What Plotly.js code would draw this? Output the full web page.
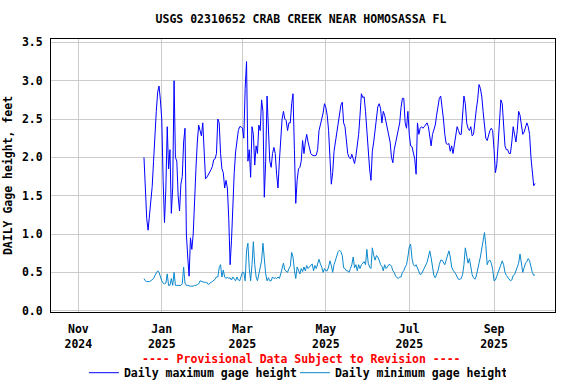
<!DOCTYPE html>
<html>
<head>
<meta charset="utf-8">
<script src="https://cdn.plot.ly/plotly-3.0.1.min.js"></script>
<style>
  html, body { margin: 0; padding: 0; background: #fff; }
  #chart { width: 576px; height: 384px; }
</style>
</head>
<body>
<div id="chart"></div>
<script>
// ---- Data (daily values, starting 2024-12-19) ----
const startDate = '2024-12-19';
const dayMs = 86400000;

const maxGage = [
  // Dec 19 - Dec 31
  2.0, 1.6, 1.2, 1.05, 1.25, 1.45, 1.62, 1.95, 2.35, 2.6, 2.85, 2.93, 2.75,
  // Jan 1 - Feb 1
  2.5, 1.7, 1.15, 1.6, 2.4, 1.85, 2.1, 1.27, 1.6, 3.0, 2.0, 1.95, 1.5, 1.3, 1.65, 1.75,
  2.2, 2.38, 1.0, 0.7, 0.45, 0.95, 0.8, 1.0, 1.5, 1.85, 2.2, 2.42, 2.35, 2.28, 2.45, 2.15,
  // Feb 2 - Mar 20
  1.72, 1.74, 1.77, 1.8, 1.84, 1.88, 1.97, 1.98, 2.05, 2.5, 2.45, 2.05, 1.85, 1.8, 1.6, 1.7,
  1.6, 1.2, 0.6, 0.92, 1.4, 1.8, 2.07, 2.2, 2.35, 2.4, 2.4, 2.38, 2.25, 2.9, 3.25, 1.95,
  2.1, 1.74, 2.4, 2.3, 1.9, 2.15, 2.05, 2.42, 2.35, 2.75, 2.6, 1.48, 1.95, 2.8, 2.4, 1.95,
  // Mar 21 - May 5
  1.87, 2.05, 2.13, 2.05, 1.78, 1.6, 1.95, 2.25, 2.5, 2.6, 2.5, 2.48, 2.35, 2.45, 2.45, 2.7,
  2.83, 2.1, 1.4, 1.7, 1.85, 1.87, 1.95, 2.22, 2.05, 2.2, 2.3, 2.2, 2.13, 2.05, 2.03, 2.02,
  2.02, 2.03, 2.1, 2.35, 2.45, 2.5, 2.58, 2.7, 2.65, 2.55, 2.35, 2.05, 1.65, 1.8,
  // May 6 - Jun 21
  2.08, 2.2, 2.33, 2.45, 2.6, 2.68, 2.72, 2.45, 2.4, 2.22, 2.05, 2.0, 1.98, 2.04, 1.97, 1.92,
  2.02, 2.15, 2.3, 2.55, 2.83, 2.78, 2.79, 2.6, 2.3, 2.02, 1.85, 1.7, 2.08, 2.2, 2.35, 2.58,
  2.66, 2.7, 2.64, 2.45, 2.6, 2.55, 2.45, 2.35, 2.27, 2.2, 2.0, 1.93, 2.1, 2.2, 2.25,
  // Jun 22 - Aug 6
  2.38, 2.45, 2.65, 2.77, 2.77, 2.45, 2.38, 2.6, 2.3, 2.15, 2.14, 2.05, 1.98, 1.78, 2.45, 2.3,
  2.38, 2.4, 2.38, 2.4, 2.42, 2.45, 2.4, 2.3, 2.15, 2.3, 2.38, 2.42, 2.55, 2.7, 2.77, 2.8,
  2.68, 2.5, 2.3, 2.18, 2.17, 2.18, 2.08, 2.15, 2.05, 2.18, 2.28, 2.4, 2.35, 2.3,
  // Aug 7 - Oct 1
  2.3, 2.55, 2.8, 2.7, 2.45, 2.38, 2.35, 2.4, 2.28, 2.3, 2.5, 2.62, 2.75, 2.95, 2.9, 2.8,
  2.6, 2.4, 2.25, 2.22, 2.3, 2.35, 2.38, 2.35, 2.1, 1.8, 1.9, 2.2, 2.5, 2.75, 2.7, 2.4,
  2.15, 2.1, 2.1, 2.05, 2.05, 2.2, 2.4, 2.3, 2.2, 2.35, 2.6, 2.55, 2.4, 2.3, 2.33, 2.4,
  2.45, 2.4, 2.3, 2.0, 1.75, 1.63, 1.66
];

const minGage = [
  // Dec 19 - Dec 31
  0.42, 0.39, 0.38, 0.38, 0.38, 0.39, 0.41, 0.42, 0.46, 0.49, 0.52, 0.5, 0.44,
  // Jan 1 - Feb 1
  0.39, 0.36, 0.35, 0.36, 0.48, 0.33, 0.33, 0.42, 0.33, 0.5, 0.33, 0.33, 0.33, 0.33, 0.33, 0.35,
  0.57, 0.36, 0.33, 0.33, 0.32, 0.32, 0.32, 0.32, 0.33, 0.33, 0.34, 0.35, 0.39, 0.38, 0.37, 0.37,
  // Feb 2 - Mar 20
  0.37, 0.37, 0.34, 0.36, 0.37, 0.38, 0.39, 0.41, 0.44, 0.44, 0.56, 0.6, 0.44, 0.53, 0.44, 0.42,
  0.44, 0.42, 0.43, 0.4, 0.44, 0.42, 0.39, 0.44, 0.4, 0.39, 0.44, 0.5, 0.5, 0.39, 0.78, 0.88,
  0.55, 0.39, 0.6, 0.9, 0.6, 0.44, 0.39, 0.48, 0.56, 0.65, 0.88, 0.62, 0.48, 0.39, 0.43, 0.39,
  // Mar 21 - May 5
  0.39, 0.44, 0.42, 0.43, 0.42, 0.44, 0.42, 0.48, 0.57, 0.62, 0.53, 0.52, 0.5, 0.55, 0.58, 0.76,
  0.7, 0.53, 0.42, 0.57, 0.52, 0.48, 0.55, 0.51, 0.57, 0.52, 0.59, 0.55, 0.57, 0.59, 0.61, 0.52,
  0.59, 0.55, 0.63, 0.67, 0.61, 0.57, 0.5, 0.55, 0.52, 0.52, 0.57, 0.65, 0.59, 0.5,
  // May 6 - Jun 20
  0.6, 0.66, 0.73, 0.77, 0.79, 0.77, 0.72, 0.56, 0.55, 0.52, 0.52, 0.5, 0.55, 0.6, 0.7, 0.56,
  0.6, 0.52, 0.6, 0.55, 0.6, 0.62, 0.64, 0.6, 0.8, 0.62, 0.57, 0.55, 0.82, 0.72, 0.66, 0.72,
  0.7, 0.66, 0.6, 0.58, 0.52, 0.6, 0.55, 0.57, 0.6, 0.6, 0.58, 0.52, 0.5, 0.45,
  // Jun 21 - Aug 6
  0.43, 0.42, 0.44, 0.44, 0.5, 0.52, 0.57, 0.6, 0.7, 0.83, 0.87, 0.68, 0.6, 0.58, 0.6, 0.55,
  0.5, 0.47, 0.48, 0.52, 0.55, 0.6, 0.63, 0.7, 0.78, 0.69, 0.57, 0.46, 0.43, 0.48, 0.52, 0.6,
  0.66, 0.66, 0.62, 0.6, 0.66, 0.72, 0.78, 0.7, 0.57, 0.53, 0.51, 0.48, 0.44, 0.41, 0.41,
  // Aug 7 - Oct 1
  0.42, 0.47, 0.6, 0.82, 0.72, 0.62, 0.68, 0.55, 0.47, 0.43, 0.41, 0.45, 0.52, 0.62, 0.7, 0.8,
  0.95, 1.02, 0.85, 0.6, 0.65, 0.66, 0.62, 0.54, 0.39, 0.4, 0.45, 0.5, 0.55, 0.6, 0.65, 0.6,
  0.5, 0.46, 0.44, 0.42, 0.39, 0.4, 0.46, 0.47, 0.52, 0.56, 0.62, 0.74, 0.6, 0.5, 0.56, 0.62,
  0.64, 0.68, 0.65, 0.56, 0.5, 0.46, 0.47
];

const xTickVals = ['2024-11-01', '2025-01-01', '2025-03-01', '2025-05-01', '2025-07-01', '2025-09-01'];
const xTickText = ['Nov<br>2024', 'Jan<br>2025', 'Mar<br>2025', 'May<br>2025', 'Jul<br>2025', 'Sep<br>2025'];
const yTickVals = [0, 0.5, 1.0, 1.5, 2.0, 2.5, 3.0, 3.5];

const FONT = 'DejaVu Sans Mono, Liberation Mono, monospace';
const FS = 11.5;

const traces = [
  {
    type: 'scatter', mode: 'lines', name: 'Daily maximum gage height',
    x0: startDate, dx: dayMs, y: maxGage,
    line: { color: '#0000ff', width: 1 }, hoverinfo: 'skip'
  },
  {
    type: 'scatter', mode: 'lines', name: 'Daily minimum gage height',
    x0: startDate, dx: dayMs, y: minGage,
    line: { color: '#0a88cc', width: 1 }, hoverinfo: 'skip'
  }
];

const layout = {
  width: 576, height: 384,
  margin: { l: 51, r: 21, t: 39, b: 72, pad: 0, autoexpand: false },
  paper_bgcolor: '#ffffff', plot_bgcolor: '#ffffff',
  font: { family: FONT, size: FS, color: '#000000', weight: 'bold' },
  showlegend: true,
  title: {
    text: 'USGS 02310652 CRAB CREEK NEAR HOMOSASSA FL',
    font: { family: FONT, size: FS, color: '#000000', weight: 'bold' },
    xref: 'paper', x: 0.496, xanchor: 'center',
    yref: 'container', y: 1 - 19 / 384, yanchor: 'middle'
  },
  xaxis: {
    type: 'date',
    range: ['2024-10-12', '2025-10-15 14:00'],
    tickmode: 'array', tickvals: xTickVals, ticktext: xTickText,
    showgrid: true, gridcolor: '#cccccc', gridwidth: 1,
    zeroline: false,
    showline: true, linecolor: '#000000', linewidth: 1, mirror: true,
    ticks: 'outside', ticklen: 6, tickcolor: 'rgba(0,0,0,0)',
    tickfont: { family: FONT, size: FS, color: '#000000', weight: 'bold' },
    automargin: false,
    fixedrange: true
  },
  yaxis: {
    range: [-0.017, 3.544],
    tickmode: 'array', tickvals: yTickVals, tickformat: '.1f',
    showgrid: true, gridcolor: '#cccccc', gridwidth: 1,
    zeroline: false,
    showline: true, linecolor: '#000000', linewidth: 1, mirror: true,
    ticks: 'outside', ticklen: 5, tickcolor: 'rgba(0,0,0,0)',
    tickfont: { family: FONT, size: FS, color: '#000000', weight: 'bold' },
    title: {
      text: 'DAILY Gage height, feet',
      font: { family: FONT, size: FS, color: '#000000', weight: 'bold' },
      standoff: 6
    },
    automargin: false,
    fixedrange: true
  },
  legend: {
    orientation: 'h',
    x: 0.484, xanchor: 'center',
    y: (312 - 372.7) / 273, yanchor: 'middle',
    font: { family: FONT, size: FS, color: '#000000', weight: 'bold' },
    bgcolor: 'rgba(0,0,0,0)',
    itemwidth: 30, tracegroupgap: 0,
    entrywidthmode: 'pixels', entrywidth: 166
  },
  annotations: [
    {
      text: '---- Provisional Data Subject to Revision ----',
      xref: 'paper', yref: 'paper',
      x: 0.498, xanchor: 'center',
      y: (312 - 359) / 273, yanchor: 'middle',
      showarrow: false,
      font: { family: FONT, size: FS, color: '#ff0000', weight: 'bold' }
    }
  ]
};

Plotly.newPlot('chart', traces, layout, { displayModeBar: false, staticPlot: true });
</script>
</body>
</html>
